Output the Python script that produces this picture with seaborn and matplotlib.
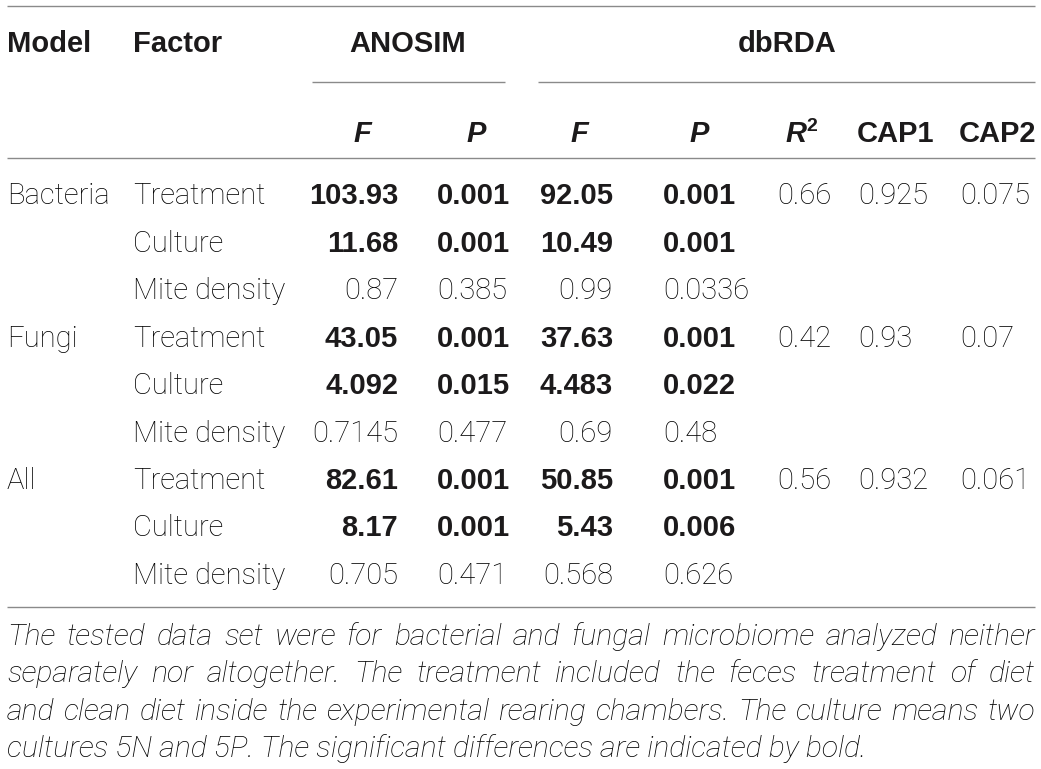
import matplotlib
matplotlib.use("Agg")
import matplotlib.pyplot as plt
import seaborn as sns

# table content
models = ["Bacteria", "Fungi", "All"]
factors = ["Treatment", "Culture", "Mite density"]
anosim_f = ["103.93", "11.68", "0.87", "43.05", "4.092", "0.7145", "82.61", "8.17", "0.705"]
anosim_p = ["0.001", "0.001", "0.385", "0.001", "0.015", "0.477", "0.001", "0.001", "0.471"]
dbrda_f = ["92.05", "10.49", "0.99", "37.63", "4.483", "0.69", "50.85", "5.43", "0.568"]
dbrda_p = ["0.001", "0.001", "0.0336", "0.001", "0.022", "0.48", "0.001", "0.006", "0.626"]
r2 = ["0.66", "0.42", "0.56"]
cap1 = ["0.925", "0.93", "0.932"]
cap2 = ["0.075", "0.07", "0.061"]
bold_rows = [True, True, False]  # significant factors per model

caption_lines = [
    "The tested data set were for bacterial and fungal microbiome analyzed neither",
    "separately nor altogether. The treatment included the feces treatment of diet",
    "and clean diet inside the experimental rearing chambers. The culture means two",
    "cultures 5N and 5P. The significant differences are indicated by bold.",
]

sns.set_theme(style="white")
plt.rcParams['font.family'] = ['Liberation Sans', 'DejaVu Sans']

INK = "#1c1a1b"
RULE = "#8a8a8a"
FS = 21
LIGHT = dict(family=['Roboto', 'Liberation Sans'], fontweight='light')

fig = plt.figure(figsize=(10.41, 7.69), dpi=100)
ax = fig.add_axes([0, 0, 1, 1])
ax.set_xlim(0, 1041)
ax.set_ylim(769, 0)
ax.axis("off")

def rule(y, x0=7, x1=1035):
    ax.plot([x0, x1], [y, y], color=RULE, lw=1.0, solid_capstyle='butt')

def txt(x, y, s, ha='left', bold=False, italic=False, size=FS):
    kw = dict(ha=ha, va='baseline', color=INK, fontsize=size)
    if bold:
        kw['fontweight'] = 'bold'
    else:
        kw.update(LIGHT)
        kw['color'] = '#000000'
    if italic:
        kw['fontstyle'] = 'italic'
    return ax.text(x, y, s, **kw)

# rules
rule(5.5)
rule(82, 312, 505)
rule(82, 538, 1035)
rule(158)
rule(607)

# headers
txt(7, 52, "Model", bold=True)
txt(133, 52, "Factor", bold=True)
txt(408, 52, "ANOSIM", ha='center', bold=True)
txt(787, 52, "dbRDA", ha='center', bold=True)
txt(362, 142, "F", ha='center', bold=True, italic=True)
txt(476, 142, "P", ha='center', bold=True, italic=True)
txt(579, 142, "F", ha='center', bold=True, italic=True)
txt(699, 142, "P", ha='center', bold=True, italic=True)
txt(785, 142, "R", bold=True, italic=True)
txt(806, 131, "2", bold=True, size=14)
txt(895, 142, "CAP1", ha='center', bold=True)
txt(997, 142, "CAP2", ha='center', bold=True)

# body
y0, dy = 204.5, 47.4
for i, model in enumerate(models):
    for j, factor in enumerate(factors):
        k = i * 3 + j
        y = y0 + k * dy
        b = bold_rows[j]
        if j == 0:
            txt(7, y, model)
            txt(777, y, r2[i])
            txt(858, y, cap1[i])
            txt(960, y, cap2[i])
        txt(133, y, factor)
        txt(398, y, anosim_f[k], ha='right', bold=b)
        txt(437, y, anosim_p[k], bold=b)
        txt(613, y, dbrda_f[k], ha='right', bold=b)
        txt(663, y, dbrda_p[k], bold=b)

# caption, justified except the last line
fig.canvas.draw()
renderer = fig.canvas.get_renderer()
cy0, cdy = 645, 37.4
x_left, x_right = 7, 1035
CFS = 21.8
for n, line in enumerate(caption_lines):
    y = cy0 + n * cdy
    words = line.split()
    if n == len(caption_lines) - 1:
        txt(x_left, y, line, italic=True, size=CFS)
        continue
    items = [txt(0, y, w, italic=True, size=CFS) for w in words]
    widths = [t.get_window_extent(renderer).width for t in items]
    gap = (x_right - x_left - sum(widths)) / (len(words) - 1)
    x = x_left
    for t, w in zip(items, widths):
        t.set_x(x)
        x += w + gap

fig.savefig("out.png", dpi=100)
